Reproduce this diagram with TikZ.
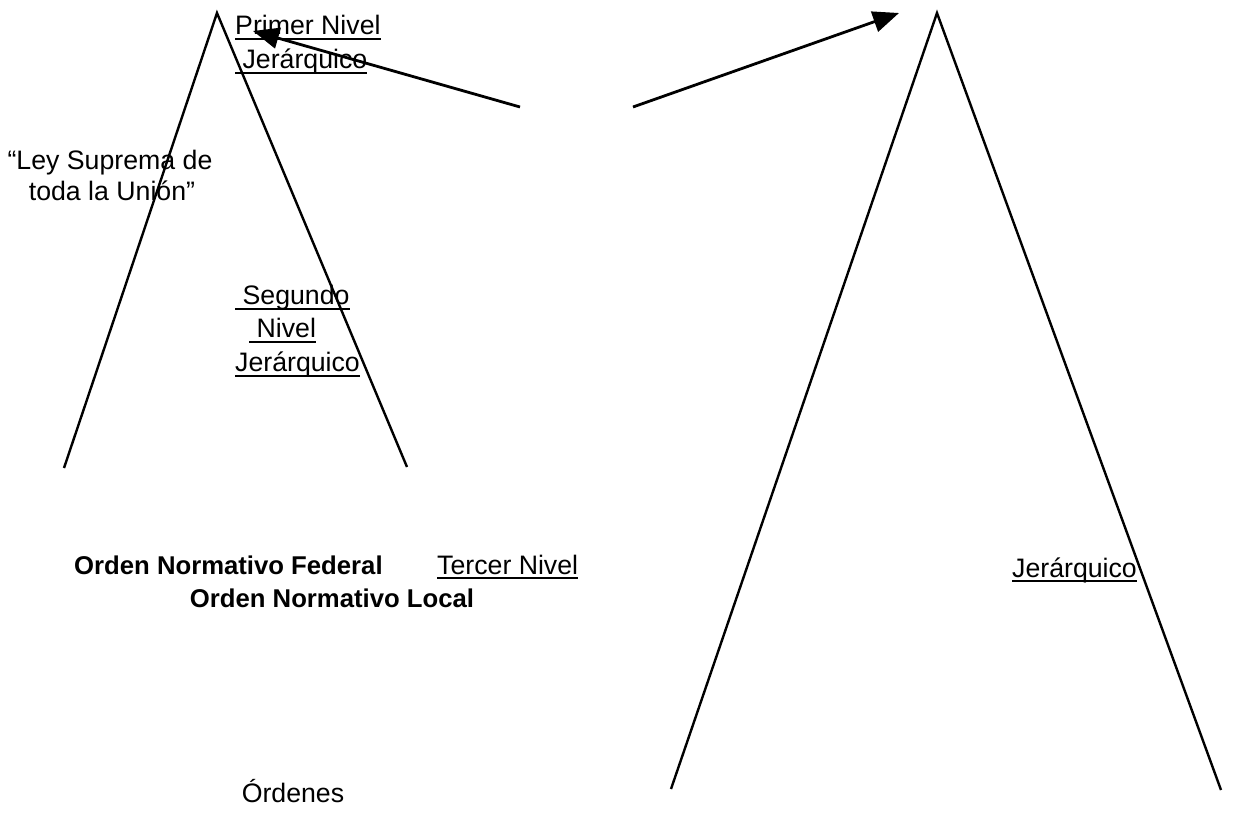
\documentclass[tikz,border=0pt]{standalone}
\usepackage{fontspec}
\setmainfont{Liberation Sans}
\usetikzlibrary{arrows.meta}
\newcommand\ulin[1]{\setbox0\hbox{#1}\rlap{\rule[-5pt]{\wd0}{2pt}}\box0}
\tikzset{
  lbl/.style={inner sep=0pt, anchor=base west, font=\fontsize{26.7}{32}\selectfont},
  clbl/.style={inner sep=0pt, anchor=base, font=\fontsize{26.7}{32}\selectfont},
  bl/.style={inner sep=0pt, font=\fontsize{25.7}{32}\selectfont\bfseries},
  tri/.style={line width=2.4pt, line join=miter},
  arr/.style={line width=2.8pt, -{Triangle[length=26pt,width=21pt]}}
}
\begin{document}
\begin{tikzpicture}[x=1pt,y=-1pt]
\useasboundingbox (0,0) rectangle (1235,818);
% triangles
\coordinate (LA) at (217,13);
\coordinate (LL) at (64,468);
\coordinate (LR) at (407,467);
\coordinate (RA) at (937,13);
\coordinate (RL) at (671,789);
\coordinate (RR) at (1221,790);
\draw[tri] (LL) -- (LA) -- (LR);
\draw[tri] (RL) -- (RA) -- (RR);
% arrows
\coordinate (a1s) at (520,107);
\coordinate (a1e) at (253,31);
\coordinate (a2s) at (633,107);
\coordinate (a2e) at (899,13);
\draw[arr] (a1s) -- (a1e);
\draw[arr] (a2s) -- (a2e);
% texts
\node[lbl] (p1) at (235,35) {\ulin{Primer Nivel}};
\node[lbl] (p2) at (235,69) {\ulin{\ Jerárquico}};
\node[clbl] (ley1) at (110,170) {“Ley Suprema de};
\node[clbl] (ley2) at (112,201) {toda la Unión”};
\node[lbl] (s1) at (235,305) {\ulin{\ Segundo}};
\node[lbl] (s2) at (249,338) {\ulin{\ Nivel}};
\node[lbl] (s3) at (235,372) {\ulin{Jerárquico}};
\node[bl, anchor=base west] (fed) at (74,574) {Orden Normativo Federal};
\node[lbl] (t1) at (437,574) {\ulin{Tercer Nivel}};
\node[bl, anchor=base] (loc) at (332,607) {Orden Normativo Local};
\node[lbl] (t2) at (1012,577) {\ulin{Jerárquico}};
\node[clbl] (ord) at (293,802) {Órdenes};
\end{tikzpicture}
\end{document}
